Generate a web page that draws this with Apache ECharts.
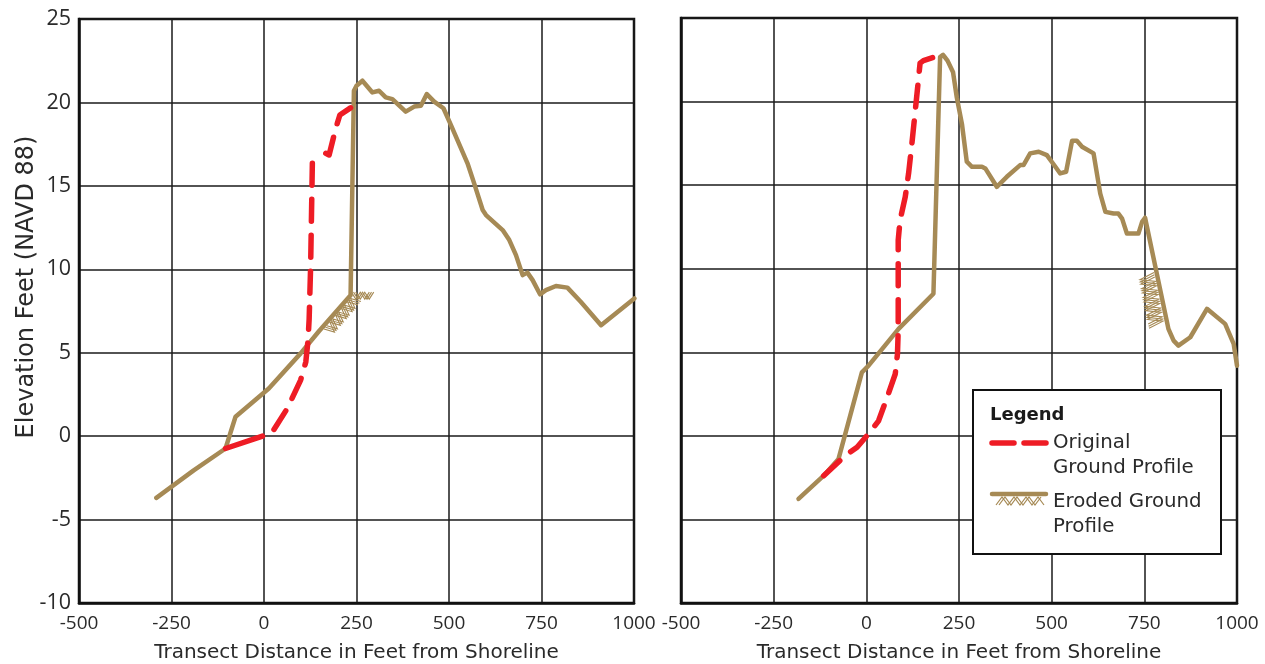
<!DOCTYPE html>
<html>
<head>
<meta charset="utf-8">
<script src="https://cdn.jsdelivr.net/npm/echarts@6/dist/echarts.min.js"></script>
<style>
html,body{margin:0;padding:0;background:#fff;}
#chart{width:1265px;height:664px;}
</style>
</head>
<body>
<div id="chart"></div>
<script>
// ---- Data ----
var xTicks = [-500, -250, 0, 250, 500, 750, 1000];
var yTicks = [-10, -5, 0, 5, 10, 15, 20, 25];

// Left panel
var leftEroded = [[-291,-3.7],[-190,-2.05],[-104,-0.74],[-77,1.16],[13,2.86],[99,4.96],[149,6.3],[234,8.45],[243,20.7],[250,21.0],[266,21.3],[293,20.6],[311,20.7],[329,20.3],[347,20.2],[383,19.45],[406,19.75],[424,19.8],[440,20.5],[460,20.05],[485,19.65],[505,18.65],[550,16.35],[568,15.15],[591,13.55],[600,13.25],[645,12.35],[663,11.75],[681,10.85],[699,9.65],[712,9.8],[726,9.35],[746,8.5],[762,8.75],[789,9.0],[820,8.9],[856,8.05],[911,6.65],[1001,8.25]];
var leftOriginalSolid = [[-104,-0.74],[-4,0]];
var leftOriginal = [[27,0.4],[63,1.66],[99,3.36],[113,4.45],[119,5.75],[122,7.0],[126,10.15],[131,16.75],null,[167,16.95],[176,16.85],[194,18.45],[205,19.25],[239,19.75]];
// hatch segments: x1, y1, x2, y2, side, offset(px), band(px)
var leftHatch = [[158,6.5,234,8.45,1,2,10],[236,8.45,292,8.45,1,-3,7]];

// Right panel
var rightEroded = [[-183,-3.77],[-115,-2.38],[-75,-1.38],[-12,3.8],[6,4.2],[87,6.4],[181,8.5],[199,22.66],[207,22.8],[219,22.45],[234,21.75],[244,20.25],[258,18.65],[271,16.4],[285,16.1],[312,16.1],[321,16.0],[352,14.9],[379,15.5],[415,16.2],[424,16.2],[442,16.9],[465,17.0],[487,16.8],[510,16.1],[523,15.7],[539,15.8],[555,17.65],[568,17.65],[582,17.3],[613,16.9],[631,14.5],[645,13.4],[667,13.3],[680,13.3],[690,13.0],[703,12.1],[734,12.1],[744,12.8],[752,13.05],[815,6.4],[829,5.7],[842,5.4],[874,5.9],[919,7.6],[968,6.7],[991,5.5],[1000,4.2]];
var rightOriginal = [[-115,-2.38],[-57,-1.18],[-25,-0.68],[6,0.12],[33,0.9],[56,2.3],[78,3.7],[84,4.9],[86,6.3],[86,11.7],[91,12.9],[105,14.3],[114,15.7],[123,17.5],[135,20.1],[145,22.3],[154,22.45],[181,22.65],[196,22.8]];
var rightHatch = [[784,9.8,809,6.8,1,3,15]];

var TAN = '#A68A55';
var RED = '#EE1C25';
var FONT = 'Open Sans';
var NFONT = 'DejaVu Sans';
var TXT = '#2a2a2a';

function hatchRender(params, api) {
  var p1 = api.coord([api.value(0), api.value(1)]);
  var p2 = api.coord([api.value(2), api.value(3)]);
  var side = api.value(4), base = api.value(5), band = api.value(6);
  var dx = p2[0]-p1[0], dy = p2[1]-p1[1];
  var L = Math.sqrt(dx*dx+dy*dy);
  var ux = dx/L, uy = dy/L;
  var nx = -uy*side, ny = ux*side;
  var children = [];
  var step = 4.5;
  for (var s = 0; s < 3; s++) {
    var sh = s*2.2;
    var pts = [];
    var k = 0;
    for (var t = 0; t <= L; t += step) {
      var a = (k % 2 === 0) ? 0 : band;
      pts.push([p1[0]+ux*(t+sh)+nx*(base+a), p1[1]+uy*(t+sh)+ny*(base+a)]);
      k++;
    }
    children.push({type:'polyline', shape:{points:pts}, style:{stroke:TAN, lineWidth:1.1, fill:null}});
  }
  return {type:'group', children:children};
}

function xAxisCfg(gi) {
  return {
    gridIndex: gi, type:'value', min:-500, max:1000, interval:250,
    name:'Transect Distance in Feet from Shoreline', nameLocation:'middle', nameGap:40,
    nameTextStyle:{fontFamily:NFONT, fontSize:20, color:TXT},
    axisLine:{show:true, onZero:false, lineStyle:{color:'#111', width:2.5}},
    axisTick:{show:false},
    axisLabel:{fontFamily:FONT, fontSize:19, color:TXT, margin:11, formatter:function(v){return String(v);}},
    splitLine:{show:true, lineStyle:{color:'#1a1a1a', width:1.5}}
  };
}
function yAxisCfg(gi, showLabels) {
  return {
    gridIndex: gi, type:'value', min:-10, max:25, interval:5,
    axisLine:{show:true, onZero:false, lineStyle:{color:'#111', width:2.5}},
    axisTick:{show:false},
    axisLabel:{show:showLabels, fontFamily:FONT, fontSize:21.5, color:TXT, margin:8, formatter:function(v){return String(v);}},
    splitLine:{show:true, lineStyle:{color:'#1a1a1a', width:1.5}}
  };
}

var chart = echarts.init(document.getElementById('chart'), null, {renderer:'canvas'});
chart.setOption({
  animation:false,
  backgroundColor:'#fff',
  grid:[
    {left:79, top:19, width:555, height:584, outerBoundsMode:'none', containLabel:false, show:true, borderColor:'#111', borderWidth:2.5, backgroundColor:'transparent'},
    {left:681, top:18, width:556, height:585, outerBoundsMode:'none', containLabel:false, show:true, borderColor:'#111', borderWidth:2.5, backgroundColor:'transparent'}
  ],
  xAxis:[xAxisCfg(0), xAxisCfg(1)],
  yAxis:[yAxisCfg(0,true), yAxisCfg(1,false)],
  series:[
    {type:'custom', xAxisIndex:0, yAxisIndex:0, data:leftHatch, renderItem:hatchRender, encode:{x:[0,2], y:[1,3]}, z:1},
    {type:'custom', xAxisIndex:1, yAxisIndex:1, data:rightHatch, renderItem:hatchRender, encode:{x:[0,2], y:[1,3]}, z:1},
    {type:'line', xAxisIndex:0, yAxisIndex:0, data:leftEroded, showSymbol:false, lineStyle:{color:TAN, width:4.5, cap:'round', join:'round'}, z:2},
    {type:'line', xAxisIndex:0, yAxisIndex:0, data:leftOriginalSolid, showSymbol:false, lineStyle:{color:RED, width:5.5, cap:'round'}, z:3},
    {type:'line', xAxisIndex:0, yAxisIndex:0, data:leftOriginal, showSymbol:false, connectNulls:false, lineStyle:{color:RED, width:5.5, type:[22,14], cap:'round', join:'round'}, z:3},
    {type:'line', xAxisIndex:1, yAxisIndex:1, data:rightEroded, showSymbol:false, lineStyle:{color:TAN, width:4.5, cap:'round', join:'round'}, z:2},
    {type:'line', xAxisIndex:1, yAxisIndex:1, data:rightOriginal, showSymbol:false, lineStyle:{color:RED, width:5.5, type:[22,14], cap:'round', join:'round'}, z:3}
  ],
  graphic:[
    {type:'text', x:27, y:287, rotation:Math.PI/2, style:{text:'Elevation Feet (NAVD 88)', fontFamily:NFONT, fontSize:24, fill:TXT, align:'center', verticalAlign:'middle'}},
    {type:'rect', shape:{x:973, y:390, width:248, height:164}, style:{fill:'#fff', stroke:'#111', lineWidth:2}, z:10},
    {type:'text', x:990, y:415, style:{text:'Legend', fontFamily:NFONT, fontWeight:'bold', fontSize:18, fill:'#1a1a1a', verticalAlign:'middle'}, z:11},
    {type:'line', shape:{x1:992, y1:443, x2:1014, y2:443}, style:{stroke:RED, lineWidth:5.5, lineCap:'round'}, z:11},
    {type:'line', shape:{x1:1024, y1:443, x2:1046, y2:443}, style:{stroke:RED, lineWidth:5.5, lineCap:'round'}, z:11},
    {type:'text', x:1053, y:443, style:{text:'Original', fontFamily:NFONT, fontSize:19.8, fill:TXT, verticalAlign:'middle'}, z:11},
    {type:'text', x:1053, y:468, style:{text:'Ground Profile', fontFamily:NFONT, fontSize:19.8, fill:TXT, verticalAlign:'middle'}, z:11},
    {type:'line', shape:{x1:992, y1:494, x2:1046, y2:494}, style:{stroke:TAN, lineWidth:4.5, lineCap:'round'}, z:11},
    {type:'polyline', shape:{points:[[996,505],[1002,497],[1008,505],[1014,497],[1020,505],[1026,497],[1032,505],[1038,497],[1044,505]]}, style:{stroke:TAN, lineWidth:1.2, fill:null}, z:11},
    {type:'polyline', shape:{points:[[999,505],[1005,497],[1011,505],[1017,497],[1023,505],[1029,497],[1035,505],[1041,497]]}, style:{stroke:TAN, lineWidth:1.2, fill:null}, z:11},
    {type:'text', x:1053, y:502, style:{text:'Eroded Ground', fontFamily:NFONT, fontSize:19.8, fill:TXT, verticalAlign:'middle'}, z:11},
    {type:'text', x:1053, y:527, style:{text:'Profile', fontFamily:NFONT, fontSize:19.8, fill:TXT, verticalAlign:'middle'}, z:11}
  ]
});
</script>
</body>
</html>
